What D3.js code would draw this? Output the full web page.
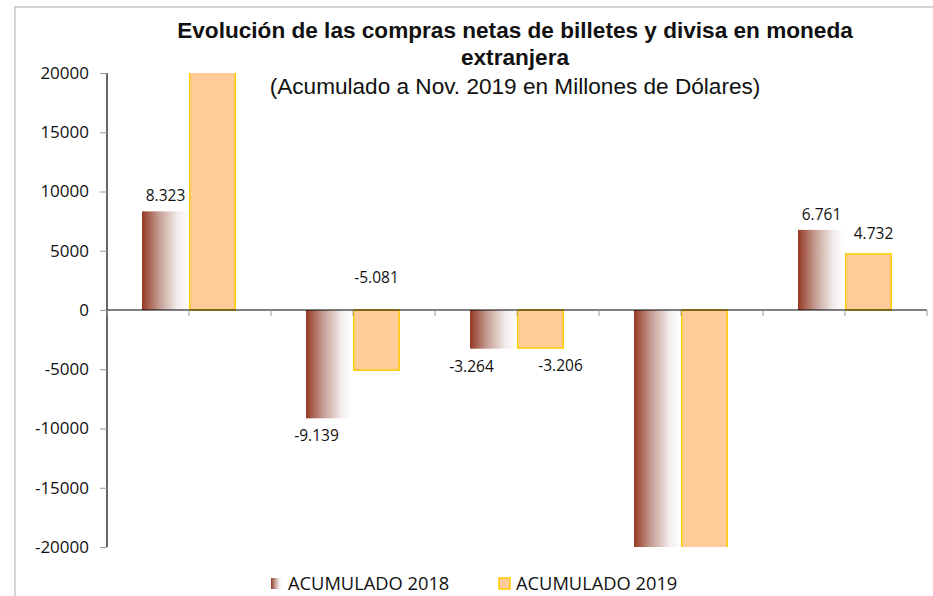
<!DOCTYPE html>
<html><head><meta charset="utf-8">
<script src="https://cdn.jsdelivr.net/npm/d3@7"></script>
<style>body{margin:0;background:#fff}svg{display:block}</style>
</head><body><svg id="c" width="933" height="596"></svg>
<script>
const categories = ["C1","C2","C3","C4","C5"];
const series = ["ACUMULADO 2018","ACUMULADO 2019"];
const values2018 = [8323, -9139, -3264, -24500, 6761];
const values2019 = [23500, -5081, -3206, -26000, 4732];
const yTicks = [-20000,-15000,-10000,-5000,0,5000,10000,15000,20000];
const titleLines = ["Evolución de las compras netas de billetes y divisa en moneda","extranjera"];
const subtitle = "(Acumulado a Nov. 2019 en Millones de Dólares)";
// label nudges (layout only), [dx, dy] relative to default placement
const nudge2018 = [[0,0],[-13,0],[-22,0],[0,0],[0,0]];
const nudge2019 = [[0,0],[0,-110],[20,0],[0,0],[5,-5]];

const svg = d3.select("#c");
const W=933,H=596;
const m = {left:107, right:927, top:73, bottom:547};
const fontNum = "'Open Sans', 'Noto Sans', sans-serif";

const defs = svg.append("defs");
const g18 = defs.append("linearGradient").attr("id","grad18").attr("x1","0").attr("x2","1").attr("y1","0").attr("y2","0");
g18.append("stop").attr("offset","0%").attr("stop-color","#963823");
g18.append("stop").attr("offset","35%").attr("stop-color","#c39a90");
g18.append("stop").attr("offset","75%").attr("stop-color","#f3ecec");
g18.append("stop").attr("offset","100%").attr("stop-color","#ffffff");
defs.append("clipPath").attr("id","plotclip").append("rect")
  .attr("x",m.left).attr("y",m.top).attr("width",m.right-m.left).attr("height",m.bottom-m.top);

// frame
svg.append("rect").attr("x",15).attr("y",7).attr("width",W).attr("height",H)
  .attr("fill","none").attr("stroke","#c8c8c8").attr("stroke-width",1.5);

const y = d3.scaleLinear().domain([-20000,20000]).range([m.bottom,m.top]);
const x0 = d3.scaleBand().domain(categories).range([m.left,m.right]).padding(0);
const x1 = d3.scaleBand().domain(series).range([0,x0.bandwidth()]).paddingInner(0).paddingOuter(0.745);

// y axis
const yAxis = d3.axisLeft(y).tickValues(yTicks).tickSize(7).tickPadding(11).tickFormat(d => String(d));
const ya = svg.append("g").attr("transform",`translate(${m.left},0)`).call(yAxis);
ya.select(".domain").attr("stroke","#000").attr("stroke-width",1.2).attr("d",`M0,${m.top}V${m.bottom}`);
ya.selectAll(".tick line").attr("stroke","#999");
ya.selectAll(".tick text").attr("font-family",fontNum).attr("font-size",17).attr("fill","#111");

// bars
const data = categories.map((c,i)=>({c, v:[values2018[i], values2019[i]]}));
const gBars = svg.append("g").attr("clip-path","url(#plotclip)");
data.forEach((d,i)=>{
  d.v.forEach((v,j)=>{
    const xx = x0(d.c)+x1(series[j]);
    const y0 = y(Math.max(0,v)), y1 = y(Math.min(0,v));
    gBars.append("rect").attr("x",xx+(j?0.75:0)).attr("y",y0).attr("width",x1.bandwidth()-(j?1.5:0)).attr("height",y1-y0)
      .attr("fill", j===0 ? "url(#grad18)" : "#ffcc99")
      .attr("stroke", j===0 ? "none" : "#ffcc00").attr("stroke-width",1.5);
  });
});

// category axis (zero line) with ticks
svg.append("line").attr("x1",m.left).attr("x2",m.right).attr("y1",y(0)).attr("y2",y(0)).attr("stroke","#000").attr("stroke-width",1.2);
const tickXs = [];
categories.forEach(c=>{tickXs.push(x0(c)); tickXs.push(x0(c)+x0.bandwidth()/2);});
tickXs.push(m.right);
svg.selectAll(".xt").data(tickXs).enter().append("line")
  .attr("x1",d=>d).attr("x2",d=>d).attr("y1",y(0)).attr("y2",y(0)+6).attr("stroke","#999");

// data labels
const fmt = v => (v<0?"-":"") + d3.format(",")(Math.abs(v)).replace(/,/g,".");
data.forEach((d,i)=>{
  d.v.forEach((v,j)=>{
    if (v>20000 || v<-20000) return;
    const nd = (j===0?nudge2018:nudge2019)[i];
    const cx = x0(d.c)+x1(series[j])+x1.bandwidth()/2 + nd[0];
    const by = v>=0 ? y(v)-10 : y(v)+23;
    svg.append("text").attr("x",cx).attr("y",by+nd[1]).attr("text-anchor","middle")
      .attr("font-family",fontNum).attr("font-size",15.5).attr("fill","#111").text(fmt(v));
  });
});

// title
const tf = "'Liberation Sans', Arial, sans-serif";
svg.append("text").attr("x",515).attr("y",38).attr("text-anchor","middle").attr("font-family",tf)
  .attr("font-weight","bold").attr("font-size",22.6).attr("fill","#111").text(titleLines[0]);
svg.append("text").attr("x",515).attr("y",65).attr("text-anchor","middle").attr("font-family",tf)
  .attr("font-weight","bold").attr("font-size",22.6).attr("fill","#111").text(titleLines[1]);
svg.append("text").attr("x",515).attr("y",94).attr("text-anchor","middle").attr("font-family",tf)
  .attr("font-size",22.6).attr("fill","#111").text(subtitle);

// legend
const leg = [{x:271, fill:"url(#grad18)", stroke:"none"},{x:499, fill:"#ffcc99", stroke:"#ffcc00"}];
series.forEach((s,j)=>{
  const L = leg[j];
  svg.append("rect").attr("x",L.x).attr("y",578).attr("width",11).attr("height",11)
    .attr("fill",L.fill).attr("stroke",L.stroke).attr("stroke-width",1.5);
  svg.append("text").attr("x",L.x+17).attr("y",590).attr("font-family",fontNum).attr("font-size",18.3)
    .attr("fill","#111").text(s);
});
</script></body></html>
